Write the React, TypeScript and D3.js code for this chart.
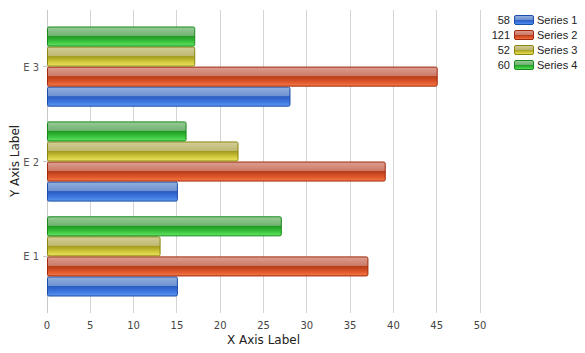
import React from "react";
import * as d3 from "d3";

const categories = ["E 1", "E 2", "E 3"];
const seriesNames = ["Series 1", "Series 2", "Series 3", "Series 4"];
// values per series, in category order E 1, E 2, E 3
const series1 = [15, 15, 28];
const series2 = [37, 39, 45];
const series3 = [13, 22, 17];
const series4 = [27, 16, 17];
const xTicks = [0, 5, 10, 15, 20, 25, 30, 35, 40, 45, 50];

const allSeries = [series1, series2, series3, series4];

// [stroke, top light, top mid, dark band, bottom mid, bottom light]
const palettes = [
  ["#1d4ea6", "#93b0e0", "#6f92d0", "#2b5cc4", "#3f7ae0", "#5f98f2"],
  ["#a2290b", "#dc9e90", "#cc7b67", "#b63d18", "#e2592c", "#f37c4c"],
  ["#8c850e", "#d2ce98", "#bfb972", "#a39c1e", "#d5cc3e", "#eae266"],
  ["#17891a", "#98cc98", "#72b272", "#1f9b22", "#3fc842", "#66e466"],
];

const margin = { top: 10, right: 105, bottom: 41, left: 47 };
const W = 585;
const H = 353;

export default function App() {
  const innerW = 480 - margin.left;
  const innerH = H - margin.top - margin.bottom;

  const x = d3.scaleLinear().domain([0, 50]).range([0, innerW]);
  const y = d3
    .scaleBand<string>()
    .domain([...categories].reverse())
    .range([16.5, 286.5])
    .paddingInner(0.155)
    .paddingOuter(0);
  // bars within a group: Series 4 at top, Series 1 at bottom
  const inner = d3
    .scaleBand<string>()
    .domain([...seriesNames].reverse())
    .range([0, y.bandwidth()]);

  const totals = allSeries.map((s) => d3.sum(s));

  return (
    <svg width={W} height={H} style={{ position: "absolute", left: 0, top: 0 }}>
      <defs>
        {palettes.map((p, i) => (
          <linearGradient key={i} id={`g${i}`} x1="0" y1="0" x2="0" y2="1">
            <stop offset="0" stopColor={p[1]} />
            <stop offset="0.45" stopColor={p[2]} />
            <stop offset="0.5" stopColor={p[3]} />
            <stop offset="0.8" stopColor={p[4]} />
            <stop offset="1" stopColor={p[5]} />
          </linearGradient>
        ))}
      </defs>
      <rect width={W} height={H} fill="#fff" />
      <g transform={`translate(${margin.left},${margin.top})`}>
        {xTicks.map((t) => (
          <g key={t}>
            <line
              x1={x(t)}
              x2={x(t)}
              y1={0}
              y2={innerH + 1}
              stroke={t === 0 ? "#c8c8c8" : "#d4d4d4"}
              strokeWidth={1}
              shapeRendering="crispEdges"
            />
            <text
              x={x(t)}
              y={innerH + 17}
              textAnchor="middle"
              fontFamily="DejaVu Sans, Verdana, sans-serif"
              fontSize={10}
              fill="#444"
            >
              {t}
            </text>
          </g>
        ))}
        {categories.map((c) => {
          const cy = (y(c) as number) + y.bandwidth() / 2;
          return (
            <g key={c}>
              <line x1={-4} x2={0} y1={cy} y2={cy} stroke="#c8c8c8" shapeRendering="crispEdges" />
              <text
                x={-8}
                y={cy + 4}
                textAnchor="end"
                fontFamily="DejaVu Sans, Verdana, sans-serif"
                fontSize={10}
                fill="#555"
              >
                {c}
              </text>
            </g>
          );
        })}
        {categories.map((c, ci) =>
          seriesNames.map((s, si) => {
            const v = allSeries[si][ci];
            const by = (y(c) as number) + (inner(s) as number);
            return (
              <rect
                key={c + s}
                x={x(0) + 0.5}
                y={by + 0.5}
                width={x(v) - x(0)}
                height={inner.bandwidth() - 1}
                rx={1.5}
                fill={`url(#g${si})`}
                stroke={palettes[si][0]}
                strokeWidth={1}
              />
            );
          })
        )}
      </g>
      <text
        x={margin.left + innerW / 2}
        y={344}
        textAnchor="middle"
        fontFamily="DejaVu Sans, Verdana, sans-serif"
        fontSize={12}
        fill="#222"
      >
        X Axis Label
      </text>
      <text
        transform={`translate(19,${margin.top + innerH / 2}) rotate(-90)`}
        textAnchor="middle"
        fontFamily="DejaVu Sans, Verdana, sans-serif"
        fontSize={12}
        fill="#222"
      >
        Y Axis Label
      </text>
      {seriesNames.map((s, i) => {
        const ly = 20 + i * 15;
        return (
          <g key={s}>
            <text
              x={510}
              y={ly + 4}
              textAnchor="end"
              fontFamily="Liberation Sans, Arial, sans-serif"
              fontSize={11}
              fill="#222"
            >
              {totals[i]}
            </text>
            <rect
              x={514.5}
              y={ly - 4.5}
              width={19}
              height={9}
              rx={1.5}
              fill={`url(#g${i})`}
              stroke={palettes[i][0]}
            />
            <text
              x={537}
              y={ly + 4}
              fontFamily="Liberation Sans, Arial, sans-serif"
              fontSize={11}
              fill="#222"
            >
              {s}
            </text>
          </g>
        );
      })}
    </svg>
  );
}
